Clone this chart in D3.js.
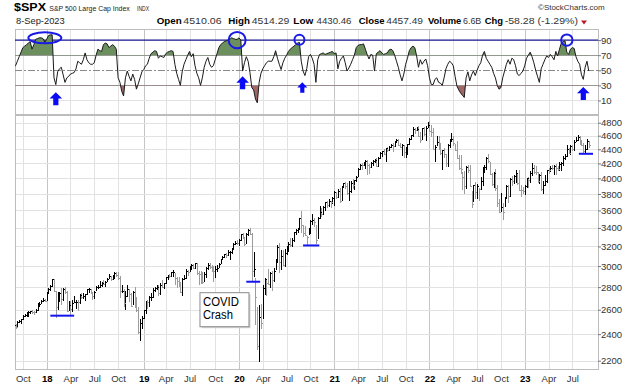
<!DOCTYPE html>
<html>
<head>
<meta charset="utf-8">
<script src="https://cdn.jsdelivr.net/npm/d3@7"></script>
<style>
  body { margin: 0; background: #fff; }
  svg { display: block; font-family: "Liberation Sans", Arial, sans-serif; }
</style>
</head>
<body>
<script>
// ------------------------------------------------------------------
// DATA  (weekly bars, week ending Friday, first week = 1-Sep-2017)
// ------------------------------------------------------------------
var firstWeek = "2017-09-01"

var weekHigh = [
  2480,2474,2500,2508,2520,2552,2557,2576,2582,2588,2597,2584,2605,2657,2665,2679,2695,2692,
  2747,2787,2811,2873,2870,2763,2754,2747,2789,2787,2801,2761,2674,2672,2680,2718,2683,2682,2733,2742,2739,2736,2779,2791,2779,2747,2764,2802,2816,2848,2841,2863,2855,2877,2916,2901,2908,2941,2940,2939,2896,2816,2777,2756,2815,2775,2746,2760,2800,2709,2621,2520,
  2539,2597,2675,2681,2716,2738,2790,2795,2817,2816,2830,2860,2836,2894,2910,2917,2940,2954,2932,2892,2892,2841,2884,2910,2964,2958,2996,3014,3018,3028,3027,2944,2943,2939,2940,2985,3021,3022,3002,2993,2993,3008,3027,3067,3097,3120,3127,3154,3150,3182,3226,3247,
  3258,3275,3330,3338,3285,3341,3385,3394,3337,3136,2882,2620,2637,2641,2818,2879,2872,2965,2933,2944,2981,3069,3211,3233,3155,3154,3165,3202,3240,3280,3279,3352,3387,3399,3509,3588,3425,3419,3306,3397,3479,3550,3501,3429,3521,3645,3629,3645,3699,3712,3726,3712,3760,
  3827,3823,3861,3870,3894,3937,3950,3928,3960,3960,3983,3978,4021,4129,4191,4195,4219,4238,4237,4187,4217,4234,4249,4262,4286,4356,4372,4394,4415,4429,4440,4468,4481,4513,4546,4536,4486,4466,4458,4429,4475,4559,4608,4718,4708,4718,4744,4652,4713,4731,4740,4808,
  4819,4750,4714,4453,4595,4590,4490,4385,4416,4327,4465,4546,4637,4593,4471,4513,4308,4307,4081,4091,4159,4178,4168,3837,3913,3946,3918,3875,4013,4140,4167,4280,4325,4212,4062,4076,4119,3907,3733,3806,3680,3762,3905,3912,4001,4028,4034,4101,4052,4101,3906,3878,
  3906,4003,4015,4094,4195,4176,4156,4080,4048,4079,3963,4039,4110,4133,4163,4170,4170,4186,4154,4213,4213,4290,4322,4449,4410,4458,4456,4528,4578,4607,4590,4527,4482,4460,4542,4514
]

var weekLow = [
  2446,2446,2464,2496,2488,2520,2544,2547,2544,2566,2566,2557,2577,2597,2624,2651,2675,2673,
  2683,2742,2769,2808,2759,2533,2605,2675,2647,2681,2741,2586,2594,2553,2586,2660,2613,2594,2653,2701,2699,2676,2734,2753,2742,2691,2698,2770,2789,2799,2802,2833,2802,2848,2876,2864,2874,2880,2904,2875,2710,2755,2628,2604,2719,2670,2631,2649,2621,2583,2409,2347,
  2444,2524,2571,2612,2631,2681,2703,2764,2776,2722,2735,2800,2785,2836,2873,2891,2898,2901,2826,2800,2805,2751,2728,2873,2878,2913,2952,2968,2975,2976,2914,2822,2834,2836,2853,2891,2963,2978,2952,2855,2892,2952,2989,3024,3066,3081,3090,3111,3070,3123,3166,3223,
  3215,3214,3263,3281,3214,3234,3316,3335,2856,2902,2478,2281,2191,2447,2524,2729,2727,2820,2797,2767,2853,2970,3039,2937,2966,3006,2999,3114,3152,3198,3200,3256,3328,3354,3387,3349,3310,3314,3209,3323,3343,3440,3418,3233,3279,3511,3530,3555,3594,3633,3647,3636,3683,
  3662,3749,3760,3694,3725,3885,3866,3790,3723,3813,3875,3853,3955,4020,4118,4118,4166,4128,4056,4061,4150,4167,4218,4165,4165,4270,4292,4326,4233,4367,4384,4432,4368,4446,4512,4458,4428,4305,4288,4279,4322,4465,4537,4595,4630,4672,4585,4495,4541,4600,4531,4733,
  4662,4582,4395,4222,4451,4401,4327,4115,4279,4157,4161,4424,4506,4450,4381,4267,4124,4062,3859,3810,3875,4074,3900,3637,3705,3739,3744,3722,3861,3911,4079,4112,4218,4057,3907,3887,3838,3647,3584,3584,3491,3647,3741,3698,3767,3906,3938,3944,3918,3839,3764,3800,
  3794,3877,3885,3949,4031,4060,4047,3943,3928,3847,3809,3901,3949,4069,4086,4114,4049,4048,4099,4098,4104,4167,4259,4299,4341,4328,4385,4389,4514,4528,4474,4449,4335,4356,4403,4430
]

var weekClose = [
  2477,2461,2500,2502,2519,2549,2553,2575,2581,2588,2582,2579,2602,2642,2652,2675,2684,2674,
  2743,2786,2810,2873,2762,2620,2732,2747,2691,2786,2752,2588,2641,2604,2656,2670,2670,2663,2728,2713,2721,2735,2779,2780,2755,2718,2760,2801,2802,2819,2840,2833,2850,2875,2902,2872,2905,2930,2914,2886,2767,2768,2658,2723,2781,2736,2633,2760,2633,2600,2417,2486,
  2532,2596,2671,2665,2707,2708,2776,2793,2804,2743,2822,2801,2834,2893,2907,2905,2940,2946,2881,2860,2826,2752,2873,2887,2950,2942,2990,3014,2977,3026,2932,2919,2889,2847,2926,2979,3007,2992,2962,2952,2970,2986,3023,3067,3093,3120,3110,3141,3146,3169,3221,3240,
  3235,3265,3330,3295,3226,3328,3380,3338,2954,2972,2711,2305,2541,2489,2790,2875,2837,2831,2930,2864,2955,3044,3194,3041,3098,3009,3130,3185,3225,3216,3271,3351,3373,3397,3508,3427,3341,3319,3298,3348,3477,3484,3465,3270,3510,3585,3558,3638,3699,3663,3709,3703,3756,
  3825,3768,3841,3714,3887,3934,3907,3811,3842,3943,3913,3975,4020,4129,4185,4180,4181,4233,4174,4156,4204,4230,4247,4166,4281,4352,4370,4327,4412,4395,4437,4468,4442,4509,4535,4459,4433,4455,4357,4391,4471,4545,4605,4698,4683,4698,4595,4538,4712,4620,4725,4766,
  4677,4663,4398,4432,4501,4419,4349,4385,4329,4204,4463,4543,4546,4488,4392,4272,4132,4123,4024,3901,4158,4109,3901,3675,3912,3825,3899,3863,3962,4130,4145,4280,4228,4058,3924,4067,3873,3693,3586,3640,3583,3752,3901,3771,3993,3965,4026,4072,3934,3852,3845,3840,
  3895,3999,3973,4071,4136,4090,4079,3970,4046,3862,3917,3971,4109,4105,4138,4133,4169,4136,4124,4192,4205,4282,4299,4410,4348,4450,4399,4505,4536,4582,4478,4464,4370,4406,4516,4457
]

// upper indicator panel
var rsiValues = [
  54,56,62,68,74,80,82,84,86,88,78,84,91,92,93,93,92,87,
  91,96,97,97,40,31,48,52,54,44,34,40,42,45,46,47,52,62,60,58,64,73,64,60,58,58,60,70,78,76,75,84,86,85,80,82,84,82,78,40,34,22,16,40,49,42,36,45,38,25,32,40,
  48,51,56,58,66,72,74,76,75,66,69,68,67,72,74,75,76,75,58,46,38,30,48,58,64,70,75,68,72,56,46,40,30,40,54,62,67,58,54,56,64,72,80,84,86,88,89,90,91,93,92,91,
  91,93,90,49,60,68,62,47,27,24,12,7,34,46,52,56,60,62,62,62,68,76,66,58,51,60,66,70,75,78,80,82,84,86,87,62,49,43,52,68,71,66,58,34,64,71,72,73,71,72,73,74,75,
  72,73,52,62,66,69,60,49,53,58,64,70,80,83,84,84,85,78,71,65,71,70,49,72,74,76,73,71,72,73,77,78,76,70,62,54,44,36,45,58,66,76,80,82,80,69,54,64,58,62,65,56,
  40,31,31,38,40,34,33,30,40,52,58,62,60,56,42,29,24,20,17,14,40,48,36,44,49,43,50,56,60,70,75,66,62,58,54,46,40,30,25,27,40,49,58,64,58,66,64,56,45,43,46,49,
  56,66,70,74,68,60,50,42,34,52,58,64,69,67,71,68,64,75,69,78,86,88,89,74,71,78,80,79,68,62,58,44,38,54,62,49
]

var rsiLevels  = [10, 30, 50, 70, 90]
var priceTicks = [2200,2400,2600,2800,3000,3200,3400,3600,3800,4000,4200,4400,4600,4800]

// annotations drawn on the chart
var arrowMarks   = [["2018-02-09", 21, 1], ["2020-01-24", 42, 1], ["2020-09-08", 34, 0.8], ["2023-08-18", 28, 1]]
var circleMarks  = [["2017-12-29", 93, 16.5, 5.5], ["2020-01-03", 90, 8.5, 8.2], ["2020-08-28", 90.5, 5, 5], ["2023-06-16", 90, 5.7, 5.7]]
var supportLines = [["2018-01-19", "2018-04-20", 2550], ["2020-02-07", "2020-03-31", 2850], ["2020-09-11", "2020-11-12", 3210], ["2023-08-01", "2023-09-24", 4335]]

if (weekHigh.length != weekClose.length || weekLow.length != weekClose.length || rsiValues.length != weekClose.length)
  throw new Error("length mismatch " + weekHigh.length + " " + weekLow.length + " " + weekClose.length + " " + rsiValues.length)

// ------------------------------------------------------------------
// LAYOUT
// ------------------------------------------------------------------
var W = 638, H = 384
  , plotL = 15, plotR = 598
  , rsiTop = 29, rsiBot = 114
  , priceTop = 115, priceBot = 369

var parse = d3.utcParse("%Y-%m-%d")
var start = parse(firstWeek)
var weeks = weekClose.map(function (c, i) { return d3.utcDay.offset(start, 7 * i) })

var x  = d3.scaleUtc().domain([weeks[0], weeks[weeks.length - 1]]).range([13.7, 588.8])
var yP = d3.scaleLog().domain([2141, 4923]).range([priceBot, priceTop])
var yR = d3.scaleLinear().domain([-7.9, 104.7]).range([rsiBot, rsiTop])

// quarter grid: first weekly bar of Jan/Apr/Jul/Oct
var quarterTicks = d3.utcMonths(new Date(Date.UTC(2017, 9, 1)), new Date(Date.UTC(2023, 9, 1)), 3)
  .map(function (m) {
    var lim = d3.utcDay.offset(m, 4)
    return weeks.find(function (w) { return w >= lim })
  })

var svg = d3.select("body").append("svg").attr("width", W).attr("height", H)

var defs = svg.append("defs")
defs.append("clipPath").attr("id", "clipPlot").append("rect")
  .attr("x", plotL).attr("y", 0).attr("width", plotR - plotL).attr("height", H)
defs.append("clipPath").attr("id", "clipHi").append("rect")
  .attr("x", plotL).attr("y", rsiTop).attr("width", plotR - plotL).attr("height", yR(70) - rsiTop)
defs.append("clipPath").attr("id", "clipLo").append("rect")
  .attr("x", plotL).attr("y", yR(30)).attr("width", plotR - plotL).attr("height", rsiBot - yR(30))

// ------------------------------------------------------------------
// GRID
// ------------------------------------------------------------------
var grid = svg.append("g").attr("shape-rendering", "crispEdges")

grid.selectAll(".vg").data(quarterTicks).enter().append("line")
  .attr("x1", function (d) { return Math.round(x(d)) + 0.5 })
  .attr("x2", function (d) { return Math.round(x(d)) + 0.5 })
  .attr("y1", rsiTop).attr("y2", priceBot)
  .attr("stroke", function (d) { return d.getUTCMonth() < 3 ? "#c4c4c4" : "#e2e2e2" })

grid.selectAll(".hg").data(priceTicks).enter().append("line")
  .attr("x1", plotL).attr("x2", plotR)
  .attr("y1", function (d) { return Math.round(yP(d)) + 0.5 })
  .attr("y2", function (d) { return Math.round(yP(d)) + 0.5 })
  .attr("stroke", "#e2e2e2")

grid.append("line").attr("x1", plotL).attr("x2", plotR)
  .attr("y1", Math.round(yR(10)) + 0.5).attr("y2", Math.round(yR(10)) + 0.5).attr("stroke", "#e2e2e2")

// panel frames
grid.append("rect").attr("x", plotL + 0.5).attr("y", rsiTop + 0.5)
  .attr("width", plotR - plotL).attr("height", rsiBot - rsiTop)
  .attr("fill", "none").attr("stroke", "#bdbdbd")
grid.append("rect").attr("x", plotL + 0.5).attr("y", priceTop + 0.5)
  .attr("width", plotR - plotL).attr("height", priceBot - priceTop)
  .attr("fill", "none").attr("stroke", "#bdbdbd")

// indicator level lines
grid.append("line").attr("x1", plotL).attr("x2", plotR)
  .attr("y1", Math.round(yR(70)) + 0.5).attr("y2", Math.round(yR(70)) + 0.5).attr("stroke", "#9a9a9a")
grid.append("line").attr("x1", plotL).attr("x2", plotR)
  .attr("y1", Math.round(yR(30)) + 0.5).attr("y2", Math.round(yR(30)) + 0.5).attr("stroke", "#9a9a9a")
grid.append("line").attr("x1", plotL).attr("x2", plotR)
  .attr("y1", Math.round(yR(50)) + 0.5).attr("y2", Math.round(yR(50)) + 0.5)
  .attr("stroke", "#8a8a8a").attr("stroke-dasharray", "7,2,2,2")
grid.append("line").attr("x1", plotL).attr("x2", plotR)
  .attr("y1", yR(90)).attr("y2", yR(90)).attr("stroke", "#14148c").attr("stroke-width", 1.4)
  .attr("shape-rendering", "auto")

// ------------------------------------------------------------------
// INDICATOR PANEL
// ------------------------------------------------------------------
var rsiG = svg.append("g").attr("clip-path", "url(#clipPlot)")

rsiG.append("path").datum(rsiValues)
  .attr("clip-path", "url(#clipHi)")
  .attr("fill", "#6c8f5e")
  .attr("d", d3.area().x(function (d, i) { return x(weeks[i]) }).y0(yR(70)).y1(function (d) { return yR(d) }))
rsiG.append("path").datum(rsiValues)
  .attr("clip-path", "url(#clipLo)")
  .attr("fill", "#a06767")
  .attr("d", d3.area().x(function (d, i) { return x(weeks[i]) }).y0(yR(30)).y1(function (d) { return yR(d) }))
rsiG.append("path").datum(rsiValues)
  .attr("fill", "none").attr("stroke", "#1a1a1a").attr("stroke-width", 1)
  .attr("d", d3.line().x(function (d, i) { return x(weeks[i]) }).y(function (d) { return yR(d) }))

// ------------------------------------------------------------------
// PRICE BARS  (high-low bar plus close tick, black up / grey down)
// ------------------------------------------------------------------
var barG = svg.append("g").attr("clip-path", "url(#clipPlot)").attr("shape-rendering", "crispEdges")
var barColor = function (d, i) { return (i > 0 && d < weekClose[i - 1]) ? "#9c9c9c" : "#000" }
var barX = function (d, i) { return Math.round(x(weeks[i])) + 0.5 }

barG.selectAll(".bar").data(weekClose).enter().append("line")
  .attr("x1", barX).attr("x2", barX)
  .attr("y1", function (d, i) { return yP(weekHigh[i]) - 0.5 })
  .attr("y2", function (d, i) { return yP(weekLow[i]) + 0.5 })
  .attr("stroke", barColor)
barG.selectAll(".tick").data(weekClose).enter().append("line")
  .attr("x1", function (d, i) { return barX(d, i) - 0.5 })
  .attr("x2", function (d, i) { return barX(d, i) + 1.5 })
  .attr("y1", function (d) { return Math.round(yP(d)) + 0.5 })
  .attr("y2", function (d) { return Math.round(yP(d)) + 0.5 })
  .attr("stroke", barColor)

// ------------------------------------------------------------------
// AXES
// ------------------------------------------------------------------
var fmtMon = d3.utcFormat("%b"), fmtYr = d3.utcFormat("%y")

var xAxis = svg.append("g").attr("transform", "translate(0," + (priceBot + 4) + ")")
  .call(d3.axisBottom(x).tickValues(quarterTicks).tickSize(0).tickPadding(2)
    .tickFormat(function (d) { return d.getUTCMonth() < 3 ? fmtYr(d) : fmtMon(d) }))
xAxis.select(".domain").remove()
xAxis.selectAll("text")
  .attr("font-size", 9.5).attr("font-family", "Liberation Sans, Arial, sans-serif")
  .attr("fill", function (d) { return d.getUTCMonth() < 3 ? "#000" : "#333" })
  .attr("font-weight", function (d) { return d.getUTCMonth() < 3 ? "bold" : "normal" })

var pAxis = svg.append("g").attr("transform", "translate(" + plotR + ",0)")
  .call(d3.axisRight(yP).tickValues(priceTicks).tickSize(3).tickPadding(0).tickFormat(d3.format("d")))
var rAxis = svg.append("g").attr("transform", "translate(" + plotR + ",0)")
  .call(d3.axisRight(yR).tickValues(rsiLevels).tickSize(3).tickPadding(0))
;[pAxis, rAxis].forEach(function (a) {
  a.select(".domain").remove()
  a.selectAll("line").attr("stroke", "#777")
  a.selectAll("text").attr("font-size", 9.5).attr("fill", "#333")
    .attr("font-family", "Liberation Sans, Arial, sans-serif")
})

// ------------------------------------------------------------------
// ANNOTATIONS
// ------------------------------------------------------------------
var ann = svg.append("g")

ann.selectAll(".sup").data(supportLines).enter().append("line")
  .attr("x1", function (d) { return x(parse(d[0])) })
  .attr("x2", function (d) { return x(parse(d[1])) })
  .attr("y1", function (d) { return yP(d[2]) })
  .attr("y2", function (d) { return yP(d[2]) })
  .attr("stroke", "#1414f0").attr("stroke-width", 2)

ann.selectAll(".arr").data(arrowMarks).enter().append("path")
  .attr("transform", function (d) { return "translate(" + x(parse(d[0])) + "," + yR(d[1]) + ") scale(" + d[2] + ")" })
  .attr("d", "M0,0L6.3,6.3L2.6,6.3L2.6,13L-2.6,13L-2.6,6.3L-6.3,6.3Z")
  .attr("fill", "#0a0af5")

ann.selectAll(".circ").data(circleMarks).enter().append("ellipse")
  .attr("cx", function (d) { return x(parse(d[0])) })
  .attr("cy", function (d) { return yR(d[1]) })
  .attr("rx", function (d) { return d[2] })
  .attr("ry", function (d) { return d[3] })
  .attr("fill", "none").attr("stroke", "#1a1ae6").attr("stroke-width", 2)

// COVID Crash label box
var bx = x(parse("2019-08-12")), by = yP(2754)
ann.append("rect").attr("x", bx + 2).attr("y", by + 2).attr("width", 49).attr("height", 34).attr("fill", "#d0d0d0")
ann.append("rect").attr("x", bx + 0.5).attr("y", by + 0.5).attr("width", 49).attr("height", 34)
  .attr("fill", "#fff").attr("stroke", "#8c8c8c")
ann.append("text").attr("x", bx + 3.5).attr("y", by + 13.5).attr("font-size", 12.5)
  .attr("textLength", 36).attr("lengthAdjust", "spacingAndGlyphs").text("COVID")
ann.append("text").attr("x", bx + 3.5).attr("y", by + 27).attr("font-size", 12.5)
  .attr("textLength", 30).attr("lengthAdjust", "spacingAndGlyphs").text("Crash")

// ------------------------------------------------------------------
// HEADER
// ------------------------------------------------------------------
var head = svg.append("g")
function txt (px, py, s, size, bold, len, fill) {
  var t = head.append("text").attr("x", px).attr("y", py).attr("font-size", size)
    .attr("font-weight", bold ? "bold" : "normal").attr("fill", fill || "#000").text(s)
  if (len) t.attr("textLength", len).attr("lengthAdjust", "spacingAndGlyphs")
  return t
}
txt(14, 10.5, "$SPX", 11.5, true, 32)
txt(49.3, 10.5, "S&P 500 Large Cap Index", 7.3, false, 80.5, "#222")
txt(137, 10.5, "INDX", 6.5, false, 12, "#222")
txt(538, 9.5, "\u00a9StockCharts.com", 7.5, false, 66.7, "#333")
txt(16, 24, "8-Sep-2023", 9, false, 48.7, "#222")

txt(156.7, 24, "Open", 9.5, true, 25)
txt(183.3, 24, "4510.06", 9, false, 38.4, "#333")
txt(228.3, 24, "High", 9.5, true, 21.7)
txt(251.7, 24, "4514.29", 9, false, 37.6, "#333")
txt(293.3, 24, "Low", 9.5, true, 20)
txt(316.5, 24, "4430.46", 9, false, 35, "#333")
txt(358.7, 24, "Close", 9.5, true, 26)
txt(386.3, 24, "4457.49", 9, false, 36.7, "#333")
txt(428, 24, "Volume", 9.5, true, 33.3)
txt(463, 24, "6.6B", 9, false, 18.3, "#333")
txt(484.7, 24, "Chg", 9.5, true, 18.3)
txt(504.7, 24, "-58.28 (-1.29%)", 9, false, 73.3, "#333")
head.append("path").attr("d", "M581,20.5L587,20.5L584,24.5Z").attr("fill", "#c0182a")
</script>
</body>
</html>
